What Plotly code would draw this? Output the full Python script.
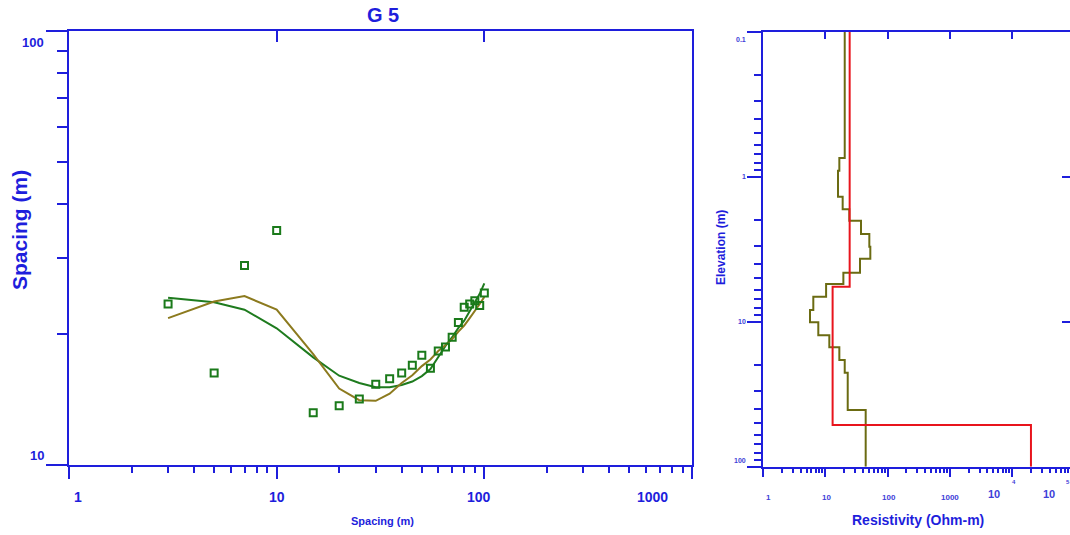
import numpy as np
import plotly.graph_objects as go

# ---------------- data ----------------
spacing = [3, 5, 7, 10, 15, 20, 25, 30, 35, 40, 45, 50, 55, 60, 65, 70, 75, 80, 85, 90, 95, 100]
observed = [23.5, 16.3, 28.8, 34.7, 13.2, 13.7, 14.2, 15.35, 15.8, 16.3, 16.97, 17.9, 16.7,
            18.3, 18.7, 19.7, 21.3, 23.1, 23.5, 23.9, 23.3, 24.9]
calc_smooth = [24.3, 23.7, 22.8, 20.65, 17.7, 16.06, 15.45, 15.1, 15.1, 15.29, 15.57, 16.03,
               16.64, 17.8, 18.8, 19.7, 20.7, 21.5, 22.6, 23.6, 24.8, 26.2]
calc_layered = [21.8, 23.8, 24.5, 22.8, 18.0, 15.0, 14.1, 14.06, 14.6, 15.45, 16.1, 16.9,
                17.5, 18.3, 18.9, 19.5, 20.3, 20.96, 21.8, 22.6, 23.5, 24.4]

smooth_rho = [20.5, 16.8, 16.0, 19.0, 24.3, 37.4, 50.9, 52.8, 36.1, 19.5, 10.3, 6.42, 5.68,
              7.72, 11.6, 16.8, 20.5, 22.9, 44.5]
smooth_bottom = [0.743, 0.909, 1.374, 1.68, 2.01, 2.48, 3.04, 3.68, 4.59, 5.50, 6.73, 8.30,
                 10.1, 12.4, 15.0, 18.4, 22.5, 40.6]
layer_rho = [24.6, 13.1, 20000]
layer_bottom = [5.74, 51.5]

left_x_ticks = [1, 10, 100, 1000]
left_x_labels = ["1", "10", "100", "1000"]
left_y_ticks = [100, 10]
left_y_labels = ["100", "10"]
right_x_ticks = [1, 10, 100, 1000]
right_x_labels = ["1", "10", "100", "1000"]
right_x_pow_base = ["10", "10"]
right_x_pow_exp = ["4", "5"]
right_y_ticks = [0.1, 1, 10, 100]
right_y_labels = ["0.1", "1", "10", "100"]

# ---------------- styling ----------------
W, H = 1070, 535
BLUE = "#1e1edc"
LBLUE = "#4040d8"
FONT = "Liberation Sans"

def px(x):
    return x / W

def py(y):
    return 1 - y / H

LX = [px(69), px(692)]
LY = [py(465), py(31)]
RX = [px(763), 1.0]
RY = [py(466.7), py(31.7)]
R_XMAX = (1070 - 763) / 62.3

def minor_vals(lo, hi):
    out = []
    for k in range(lo, hi):
        for m in range(2, 10):
            out.append(m * 10.0 ** k)
    return out

def ax(**kw):
    d = dict(showgrid=False, zeroline=False, showline=False, ticks="", showticklabels=False,
             tickcolor=BLUE, tickwidth=2, linecolor=BLUE, linewidth=2, tickmode="array",
             fixedrange=True)
    d.update(kw)
    return d

fig = go.Figure()

# left panel
fig.add_trace(go.Scatter(x=spacing, y=calc_smooth, mode="lines",
                         line=dict(color="#1e7b1e", width=2), xaxis="x", yaxis="y"))
fig.add_trace(go.Scatter(x=spacing, y=calc_layered, mode="lines",
                         line=dict(color="#8c7a1e", width=2), xaxis="x", yaxis="y"))
fig.add_trace(go.Scatter(x=spacing, y=observed, mode="markers",
                         marker=dict(symbol="square-open", size=7, color="#1a7a1a",
                                     line=dict(width=2, color="#1a7a1a")),
                         xaxis="x", yaxis="y"))

# right panel step profiles
fig.add_trace(go.Scatter(x=smooth_rho + [smooth_rho[-1]], y=[0.1] + smooth_bottom + [100],
                         mode="lines", line=dict(color="#6b6b12", width=2, shape="vh"),
                         xaxis="x2", yaxis="y2"))
fig.add_trace(go.Scatter(x=layer_rho + [layer_rho[-1]], y=[0.1] + layer_bottom + [100],
                         mode="lines", line=dict(color="#e8141c", width=2, shape="vh"),
                         xaxis="x2", yaxis="y2"))

# empty traces so overlay axes are drawn
for xa, ya in [("x3", "y"), ("x4", "y"), ("x", "y3"), ("x5", "y2"), ("x6", "y2"),
               ("x2", "y4"), ("x2", "y5")]:
    fig.add_trace(go.Scatter(x=[], y=[], xaxis=xa, yaxis=ya, hoverinfo="skip"))

fig.update_layout(
    width=W, height=H, autosize=False,
    margin=dict(l=0, r=0, t=0, b=0, pad=0),
    paper_bgcolor="white", plot_bgcolor="white", showlegend=False,
    xaxis=ax(type="log", range=[0, 3], domain=LX, anchor="y", showline=True, mirror=True,
             ticks="outside", tickvals=left_x_ticks, ticklen=12),
    yaxis=ax(type="log", range=[1, 2], domain=LY, anchor="x", showline=True, mirror=True,
             ticks="outside", tickvals=left_y_ticks, ticklen=21),
    xaxis3=ax(type="log", range=[0, 3], domain=LX, overlaying="x", anchor="y", side="bottom",
              ticks="outside", tickvals=minor_vals(0, 3), ticklen=7),
    xaxis4=ax(type="log", range=[0, 3], domain=LX, overlaying="x", anchor="y", side="top",
              ticks="inside", tickvals=[10, 100], ticklen=11),
    yaxis3=ax(type="log", range=[1, 2], domain=LY, overlaying="y", anchor="x", side="left",
              ticks="outside", tickvals=minor_vals(1, 2), ticklen=11),
    xaxis2=ax(type="log", range=[0, R_XMAX], domain=RX, anchor="y2", showline=True, mirror=True,
              ticks="outside", tickvals=[1, 10, 100, 1000, 10000], ticklen=8),
    yaxis2=ax(type="log", range=[2, -1], domain=RY, anchor="x2", showline=True,
              ticks="outside", tickvals=right_y_ticks, ticklen=14),
    xaxis5=ax(type="log", range=[0, R_XMAX], domain=RX, overlaying="x2", anchor="y2",
              side="bottom", ticks="outside", tickvals=minor_vals(0, 5), ticklen=5),
    xaxis6=ax(type="log", range=[0, R_XMAX], domain=RX, overlaying="x2", anchor="y2",
              side="top", ticks="inside", tickvals=[10, 100, 1000, 10000], ticklen=7),
    yaxis4=ax(type="log", range=[2, -1], domain=RY, overlaying="y2", anchor="x2", side="left",
              ticks="outside", tickvals=minor_vals(-1, 2), ticklen=8),
    yaxis5=ax(type="log", range=[2, -1], domain=RY, overlaying="y2", anchor="x2", side="right",
              ticks="inside", tickvals=[1, 10], ticklen=8),
)

ann = []

def add(text, x, y, size, xref="paper", yref="paper", color=BLUE, **kw):
    d = dict(text=text, x=x, y=y, xref=xref, yref=yref, showarrow=False,
             xanchor="center", yanchor="middle",
             font=dict(family=FONT, size=size, color=color))
    d.update(kw)
    ann.append(d)

# titles
add("<b>G 5</b>", px(383), py(15), 20)
add("<b>Spacing (m)</b>", px(19), py(230), 21, textangle=-90)
add("<b>Spacing (m)</b>", px(382), py(521), 11)
add("<b>Resistivity (Ohm-m)</b>", px(918), py(520), 14)
add("<b>Elevation (m)</b>", px(721), py(248), 12, textangle=-90)

# left x tick labels
for v, t, s in zip(left_x_ticks, left_x_labels, [9, 0, -5, -40]):
    add("<b>%s</b>" % t, np.log10(v), py(497), 14, xref="x", xshift=s)
# left y tick labels
for v, t, s in zip(left_y_ticks, left_y_labels, [-11, 10]):
    add("<b>%s</b>" % t, px(46), np.log10(v), 13, yref="y", xanchor="right", yshift=s)
# right x tick labels
for v, t, s in zip(right_x_ticks, right_x_labels, [5, 1, 1, 0]):
    add("<b>%s</b>" % t, np.log10(v), py(497), 8, xref="x2", xshift=s, color=LBLUE)
for xb, xe, b, e in zip([994, 1049], [1014, 1068], right_x_pow_base, right_x_pow_exp):
    add("<b>%s</b>" % b, px(xb), py(494), 11, color=LBLUE)
    add("<b>%s</b>" % e, px(xe), py(482), 6, color=LBLUE)
# right y tick labels
for v, t, s in zip(right_y_ticks, right_y_labels, [-8, 0, 0, 6]):
    add("<b>%s</b>" % t, px(748), np.log10(v), 7, yref="y2", xanchor="right", yshift=s,
        color=LBLUE)

fig.update_layout(annotations=ann)
fig.write_html("out.html")
